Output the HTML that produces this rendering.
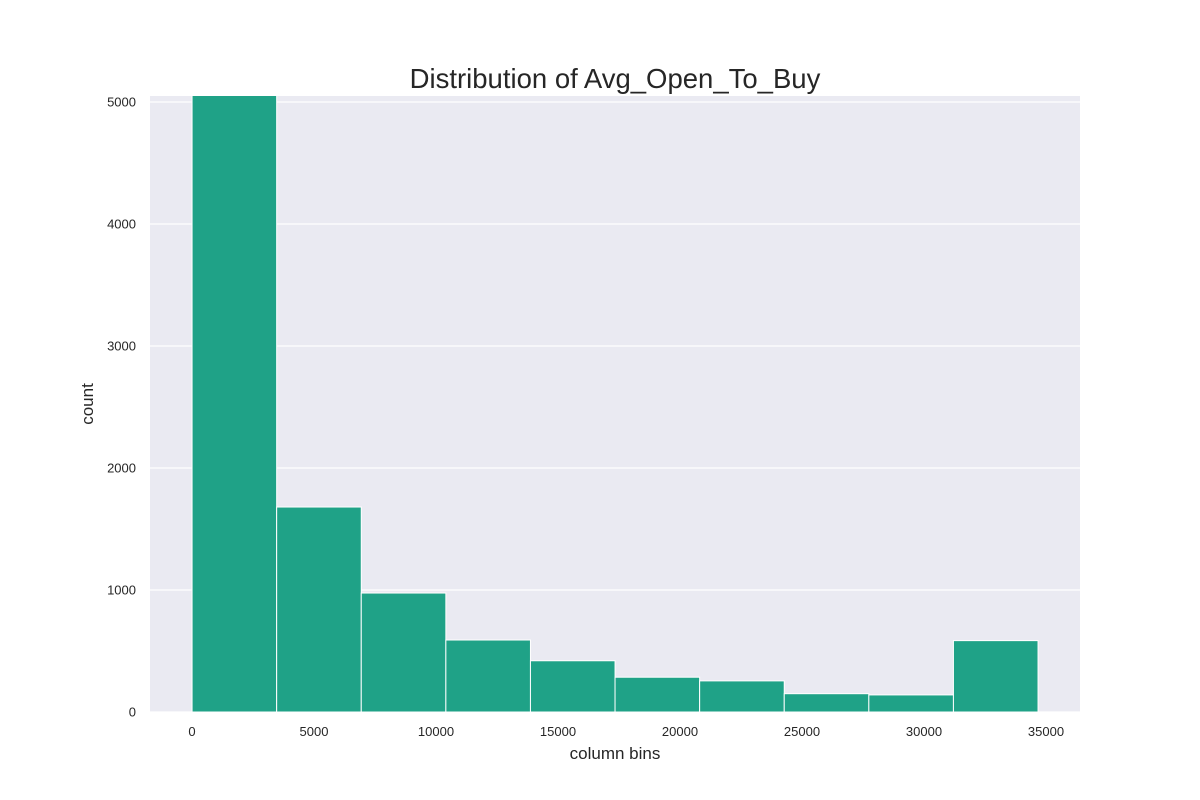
<!DOCTYPE html>
<html><head><meta charset="utf-8"><style>
body{margin:0;background:#fff;}
svg{display:block;font-family:"Liberation Sans","DejaVu Sans",sans-serif;}
</style></head><body>
<svg id="chart" width="1200" height="800"></svg>
<script>
const binEdges=[3,3470,6937,10404,13871,17338,20805,24272,27739,31206,34673];
const counts=[5060,1680,975,590,420,285,255,150,140,585];
const xTicks=[0,5000,10000,15000,20000,25000,30000,35000];
const yTicks=[0,1000,2000,3000,4000,5000];
const L=150,R=1080,T=96,B=712;
const xMin=-1721,xMax=36393,yMax=5049;
const sx=v=>L+(v-xMin)/(xMax-xMin)*(R-L);
const sy=v=>B-v/yMax*(B-T);
const NS="http://www.w3.org/2000/svg";
const svg=document.getElementById('chart');
function mk(t,a,p){const e=document.createElementNS(NS,t);for(const k in a)e.setAttribute(k,a[k]);(p||svg).appendChild(e);return e;}
const bg=mk('rect',{x:L,y:T,width:R-L,height:B-T,fill:'#eaeaf2'});


const defs=mk('defs',{});
const cp=mk('clipPath',{id:'clip'},defs);
mk('rect',{x:L,y:T,width:R-L,height:B-T},cp);
yTicks.forEach(v=>{
 const g=mk('line',{x1:L,x2:R,y1:sy(v),y2:sy(v),stroke:'#fff','stroke-width':1.2});
 
 
 const t=mk('text',{x:L-14,y:sy(v)+4.5,'text-anchor':'end','font-size':13,fill:'#262626'});
 t.textContent=v;
 
 
});
xTicks.forEach(v=>{
 const t=mk('text',{x:sx(v),y:B+24,'text-anchor':'middle','font-size':13,fill:'#262626'});
 t.textContent=v;
 
 
});
const bars=mk('g',{'clip-path':'url(#clip)'});
counts.forEach((c,i)=>{
 const x0=sx(binEdges[i]),x1=sx(binEdges[i+1]);
 const r=mk('rect',{x:x0,y:sy(c),width:x1-x0,height:B-sy(c),fill:'#1fa287',stroke:'#fff','stroke-width':1},bars);
 
 
});
const title=mk('text',{x:615,y:88,'text-anchor':'middle','font-size':27.5,fill:'#262626'});
title.textContent='Distribution of Avg_Open_To_Buy';


const xl=mk('text',{x:615,y:759,'text-anchor':'middle','font-size':17,fill:'#262626'});
xl.textContent='column bins';


const yl=mk('text',{x:93,y:404,'text-anchor':'middle','font-size':17,fill:'#262626',transform:'rotate(-90 93 404)'});
yl.textContent='count';


</script>
</body></html>
